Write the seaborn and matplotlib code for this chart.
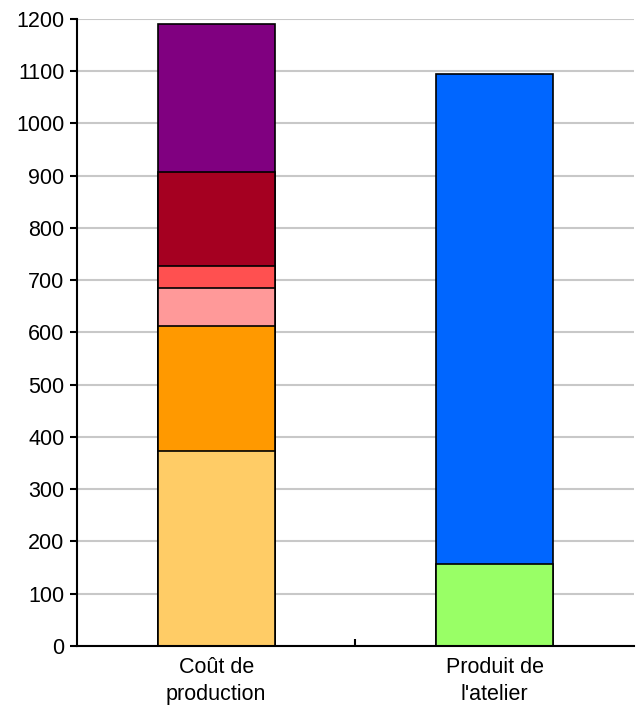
import pandas as pd
import matplotlib
matplotlib.use('Agg')
import matplotlib.pyplot as plt
import seaborn as sns

categories = ["Coût de\nproduction", "Produit de\nl'atelier"]

# segments empilés, de bas en haut
cout_valeurs = [373, 239, 73, 42, 180, 283]
cout_couleurs = ['#FFCC66', '#FF9900', '#FF9999', '#FF5050', '#A50021', '#800080']
produit_valeurs = [157, 938]
produit_couleurs = ['#99FF66', '#0066FF']

y_ticks = list(range(0, 1300, 100))

sns.set_theme(style='white')
plt.rcParams['font.family'] = ['Liberation Sans', 'DejaVu Sans']

lignes = []
for cat, valeurs, couleurs in [(categories[0], cout_valeurs, cout_couleurs),
                               (categories[1], produit_valeurs, produit_couleurs)]:
    cumul = 0
    for i, (v, c) in enumerate(zip(valeurs, couleurs)):
        cumul += v
        lignes.append({'cat': cat, 'niveau': i, 'cumul': cumul, 'couleur': c})
df = pd.DataFrame(lignes)

fig = plt.figure(figsize=(6.39, 7.16), dpi=100)
ax = fig.add_axes([0.1205, 0.098, 0.8715, 0.8755])

ax.set_axisbelow(True)
ax.yaxis.grid(True, color='#C8C8C8', linewidth=1.5)

# dessiner du plus haut au plus bas pour que les segments se recouvrent
for _, r in df.sort_values('cumul', ascending=False).iterrows():
    sns.barplot(x=[r['cat']], y=[r['cumul']], order=categories, color=r['couleur'],
                width=0.42, edgecolor='black', linewidth=1.2, saturation=1, ax=ax)

ax.set_xlim(-0.5, 1.5)
ax.set_ylim(0, 1200)
ax.set_yticks(y_ticks)
ax.set_xticks([0, 1])
ax.set_xticklabels(categories, fontsize=15.5, color='black', linespacing=1.35)
ax.set_xticks([0.5], minor=True)
ax.tick_params(axis='x', which='major', length=0, pad=8)
ax.tick_params(axis='x', which='minor', direction='in', length=5, width=1.5, color='black', bottom=True)
ax.tick_params(axis='y', which='major', direction='out', length=5, width=1.5, color='black',
               left=True, labelsize=15.5, labelcolor='black', pad=4)
ax.set_xlabel('')
ax.set_ylabel('')

for s in ['top', 'right']:
    ax.spines[s].set_visible(False)
for s in ['left', 'bottom']:
    ax.spines[s].set_color('black')
    ax.spines[s].set_linewidth(1.5)

fig.savefig('out.png', dpi=100)
